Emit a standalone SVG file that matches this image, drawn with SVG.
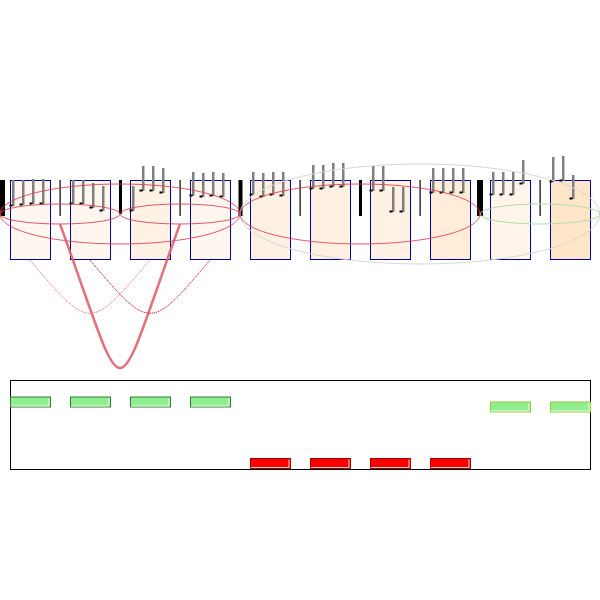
<svg xmlns="http://www.w3.org/2000/svg" width="600" height="600" viewBox="0 0 600 600">
<style>
.box{stroke:#000099;stroke-width:1}
.bar{fill:#000}
.stem{fill:#808080}
.tick{fill:#000}
.ell{fill:none;stroke:#e03c4c;stroke-width:1;opacity:0.85}
.gbar{fill:#90ee90;stroke:#2e7d32;stroke-width:1}
.ybar{fill:#90ee90;stroke:#9acd32;stroke-width:1}
.rbar{fill:#ff0000;stroke:#a00000;stroke-width:1}
.hl{fill:none;stroke:#fff;stroke-width:1;opacity:0.8}
</style>
<rect width="600" height="600" fill="#fff"/>
<g id="boxes">
<rect id="n1" class="box" x="10.5" y="180.5" width="40" height="79" fill="#fff7ef"/>
<rect id="n2" class="box" x="70.5" y="180.5" width="40" height="79" fill="#fff7ef"/>
<rect id="n3" class="box" x="130.5" y="180.5" width="40" height="79" fill="#fff1e3"/>
<rect id="n4" class="box" x="190.5" y="180.5" width="40" height="79" fill="#fff7ef"/>
<rect id="n5" class="box" x="250.5" y="180.5" width="40" height="79" fill="#fef1e4"/>
<rect id="n6" class="box" x="310.5" y="180.5" width="40" height="79" fill="#fff0e1"/>
<rect id="n7" class="box" x="370.5" y="180.5" width="40" height="79" fill="#fff2e5"/>
<rect id="n8" class="box" x="430.5" y="180.5" width="40" height="79" fill="#ffecd9"/>
<rect id="n9" class="box" x="490.5" y="180.5" width="40" height="79" fill="#fff4e9"/>
<rect id="n10" class="box" x="550.5" y="180.5" width="40" height="79" fill="#ffe6c9"/>
</g>
<g id="bars">
<rect class="bar" x="0" y="180" width="5" height="36"/>
<rect class="bar" x="59.5" y="180" width="1.2" height="36"/>
<rect class="bar" x="119" y="180" width="3" height="34"/>
<rect class="bar" x="179.5" y="180" width="1.2" height="36"/>
<rect class="bar" x="238.5" y="180" width="4" height="36"/>
<rect class="bar" x="299.5" y="180" width="1.2" height="36"/>
<rect class="bar" x="359" y="180" width="3" height="36"/>
<rect class="bar" x="419.5" y="180" width="1.2" height="36"/>
<rect class="bar" x="477" y="180" width="6" height="36"/>
<rect class="bar" x="539.5" y="180" width="1.2" height="36"/>
</g>
<g id="stems">
<rect class="stem" x="12" y="180" width="2.5" height="26"/><rect class="tick" x="9.5" y="204.5" width="3" height="2"/>
<rect class="stem" x="22" y="180" width="2.5" height="25"/><rect class="tick" x="19.5" y="203.5" width="3" height="2"/>
<rect class="stem" x="32" y="179" width="2.5" height="25"/><rect class="tick" x="29.5" y="202.5" width="3" height="2"/>
<rect class="stem" x="42" y="179" width="2.5" height="25"/><rect class="tick" x="39.5" y="202.5" width="3" height="2"/>
<rect class="stem" x="72" y="180" width="2.5" height="24"/><rect class="tick" x="69.5" y="202.5" width="3" height="2"/>
<rect class="stem" x="82" y="180" width="2.5" height="24"/><rect class="tick" x="79.5" y="202.5" width="3" height="2"/>
<rect class="stem" x="92" y="183" width="2.5" height="25"/><rect class="tick" x="89.5" y="206.5" width="3" height="2"/>
<rect class="stem" x="102" y="186" width="2.5" height="25"/><rect class="tick" x="99.5" y="209.5" width="3" height="2"/>
<rect class="stem" x="132" y="186" width="2.5" height="25"/><rect class="tick" x="129.5" y="209.5" width="3" height="2"/>
<rect class="stem" x="142" y="166" width="2.5" height="25"/><rect class="tick" x="139.5" y="189.5" width="3" height="2"/>
<rect class="stem" x="152" y="166" width="2.5" height="25"/><rect class="tick" x="149.5" y="189.5" width="3" height="2"/>
<rect class="stem" x="162" y="168" width="2.5" height="25"/><rect class="tick" x="159.5" y="191.5" width="3" height="2"/>
<rect class="stem" x="192" y="172" width="2.5" height="24"/><rect class="tick" x="189.5" y="194.5" width="3" height="2"/>
<rect class="stem" x="202" y="173" width="2.5" height="24"/><rect class="tick" x="199.5" y="195.5" width="3" height="2"/>
<rect class="stem" x="212" y="172" width="2.5" height="24"/><rect class="tick" x="209.5" y="194.5" width="3" height="2"/>
<rect class="stem" x="222" y="173" width="2.5" height="24"/><rect class="tick" x="219.5" y="195.5" width="3" height="2"/>
<rect class="stem" x="252" y="172" width="2.5" height="23"/><rect class="tick" x="249.5" y="193.5" width="3" height="2"/>
<rect class="stem" x="262" y="173" width="2.5" height="24"/><rect class="tick" x="259.5" y="195.5" width="3" height="2"/>
<rect class="stem" x="272" y="172" width="2.5" height="23"/><rect class="tick" x="269.5" y="193.5" width="3" height="2"/>
<rect class="stem" x="282" y="172" width="2.5" height="24"/><rect class="tick" x="279.5" y="194.5" width="3" height="2"/>
<rect class="stem" x="312" y="165" width="2.5" height="24"/><rect class="tick" x="309.5" y="187.5" width="3" height="2"/>
<rect class="stem" x="322" y="165" width="2.5" height="24"/><rect class="tick" x="319.5" y="187.5" width="3" height="2"/>
<rect class="stem" x="332" y="163" width="2.5" height="24"/><rect class="tick" x="329.5" y="185.5" width="3" height="2"/>
<rect class="stem" x="342" y="163" width="2.5" height="24"/><rect class="tick" x="339.5" y="185.5" width="3" height="2"/>
<rect class="stem" x="372" y="166" width="2.5" height="25"/><rect class="tick" x="369.5" y="189.5" width="3" height="2"/>
<rect class="stem" x="382" y="166" width="2.5" height="25"/><rect class="tick" x="379.5" y="189.5" width="3" height="2"/>
<rect class="stem" x="392" y="187" width="2.5" height="25"/><rect class="tick" x="389.5" y="210.5" width="3" height="2"/>
<rect class="stem" x="402" y="187" width="2.5" height="25"/><rect class="tick" x="399.5" y="210.5" width="3" height="2"/>
<rect class="stem" x="432" y="168" width="2.5" height="25"/><rect class="tick" x="429.5" y="191.5" width="3" height="2"/>
<rect class="stem" x="442" y="168" width="2.5" height="25"/><rect class="tick" x="439.5" y="191.5" width="3" height="2"/>
<rect class="stem" x="452" y="168" width="2.5" height="25"/><rect class="tick" x="449.5" y="191.5" width="3" height="2"/>
<rect class="stem" x="462" y="168" width="2.5" height="25"/><rect class="tick" x="459.5" y="191.5" width="3" height="2"/>
<rect class="stem" x="492" y="172" width="2.5" height="23"/><rect class="tick" x="489.5" y="193.5" width="3" height="2"/>
<rect class="stem" x="502" y="172" width="2.5" height="23"/><rect class="tick" x="499.5" y="193.5" width="3" height="2"/>
<rect class="stem" x="512" y="172" width="2.5" height="23"/><rect class="tick" x="509.5" y="193.5" width="3" height="2"/>
<rect class="stem" x="522" y="160" width="2.5" height="24"/><rect class="tick" x="519.5" y="182.5" width="3" height="2"/>
<rect class="stem" x="552" y="157" width="2.5" height="25"/><rect class="tick" x="549.5" y="180.5" width="3" height="2"/>
<rect class="stem" x="562" y="156" width="2.5" height="25"/><rect class="tick" x="559.5" y="179.5" width="3" height="2"/>
<rect class="stem" x="572" y="175" width="2.5" height="24"/><rect class="tick" x="569.5" y="197.5" width="3" height="2"/>
</g>
<g id="connectors">
<ellipse cx="420" cy="214" rx="180" ry="50" fill="none" stroke="#d8d8d8" stroke-width="1"/>
<ellipse class="ell" cx="60" cy="214" rx="60" ry="10"/>
<ellipse class="ell" cx="180" cy="214" rx="60" ry="10"/>
<ellipse class="ell" cx="120" cy="214" rx="120" ry="30"/>
<ellipse class="ell" cx="360" cy="214" rx="120" ry="30"/>
<ellipse cx="540" cy="214" rx="60" ry="10" fill="none" stroke="#b4dcaa" stroke-width="1"/>
<path d="M60,224 C130,416 110,416 180,224" fill="none" stroke="#e06070" stroke-width="2.5" opacity="0.9"/>
<path d="M30,260 C90,331 90,331 150,260" fill="none" stroke="#ec7c86" stroke-width="1" stroke-dasharray="1.2,0.8"/>
<path d="M90,260 C150,331 150,331 210,260" fill="none" stroke="#d01428" stroke-width="1" stroke-dasharray="1.2,0.8"/>
</g>
<g id="panel">
<rect x="10.5" y="380.5" width="580" height="89" fill="none" stroke="#000" stroke-width="1"/>
<rect class="gbar" x="10.5" y="397" width="40" height="10"/><path class="hl" d="M49,398 V406 H11"/>
<rect class="gbar" x="70.5" y="397" width="40" height="10"/><path class="hl" d="M109,398 V406 H71"/>
<rect class="gbar" x="130.5" y="397" width="40" height="10"/><path class="hl" d="M169,398 V406 H131"/>
<rect class="gbar" x="190.5" y="397" width="40" height="10"/><path class="hl" d="M229,398 V406 H191"/>
<rect class="ybar" x="490.5" y="402" width="40" height="10"/><path class="hl" d="M529,403 V411 H491"/>
<rect class="ybar" x="550.5" y="402" width="40" height="10"/><path class="hl" d="M589,403 V411 H551"/>
<rect class="rbar" x="250.5" y="458.5" width="40" height="10"/><path class="hl" d="M289,459.5 V467.5 H251"/>
<rect class="rbar" x="310.5" y="458.5" width="40" height="10"/><path class="hl" d="M349,459.5 V467.5 H311"/>
<rect class="rbar" x="370.5" y="458.5" width="40" height="10"/><path class="hl" d="M409,459.5 V467.5 H371"/>
<rect class="rbar" x="430.5" y="458.5" width="40" height="10"/><path class="hl" d="M469,459.5 V467.5 H431"/>
</g>
</svg>
